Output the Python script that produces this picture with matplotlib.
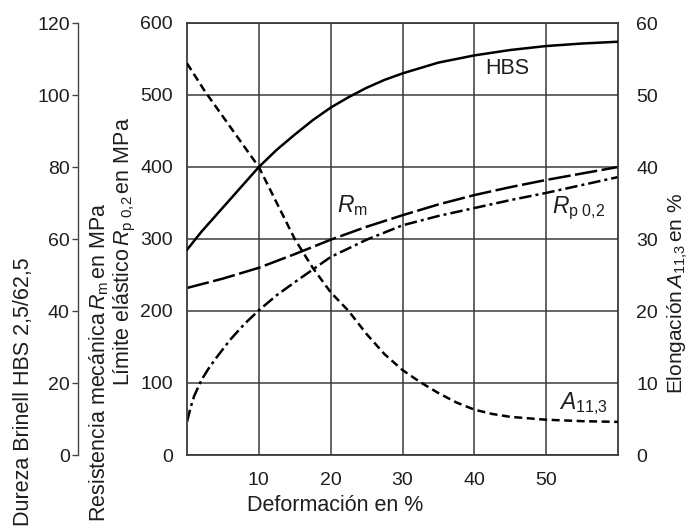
import numpy as np
import matplotlib
matplotlib.use("Agg")
import matplotlib.pyplot as plt

plt.rcParams['font.family'] = ['Liberation Sans', 'DejaVu Sans']
plt.rcParams['mathtext.fontset'] = 'custom'
plt.rcParams['mathtext.rm'] = 'Liberation Sans'
plt.rcParams['mathtext.it'] = 'Liberation Sans:italic'

# values
hbs_x = [0, 2, 4, 6, 8, 10, 12.5, 15, 17.5, 20, 22.5, 25, 27.5, 30, 35, 40, 45, 50, 55, 60]
hbs = [57, 62, 66.5, 71, 75.5, 80, 84.8, 89, 93, 96.5, 99.4, 102, 104.2, 106, 109, 111, 112.5, 113.6, 114.3, 114.8]

rm_x = [0, 5, 10, 15, 20, 25, 30, 35, 40, 45, 50, 55, 60]
rm = [232, 245, 260, 279, 299, 317, 333, 348, 361, 372, 382, 391, 400]

rp_x = [0, 0.5, 1, 2, 3, 4, 6, 8, 10, 12.5, 15, 20, 25, 30, 35, 40, 45, 50, 55, 60]
rp = [46, 66, 82, 104, 120, 134, 160, 182, 201, 222, 240, 275, 299, 319, 332, 343, 354, 364, 375, 386]

a_x = [0, 2.5, 5, 7.5, 10, 12.5, 15, 17.5, 20, 22.5, 25, 27.5, 30, 32.5, 35, 37.5, 40, 42.5, 45, 50, 55, 60]
a113 = [54.4, 50.5, 47, 43.5, 40, 35, 30, 26, 22.6, 20, 16.8, 14, 11.8, 10.1, 8.6, 7.3, 6.3, 5.7, 5.3, 4.9, 4.7, 4.6]

x_ticks = [10, 20, 30, 40, 50]
mpa_ticks = [0, 100, 200, 300, 400, 500, 600]
hbs_ticks = [0, 20, 40, 60, 80, 100, 120]
pct_ticks = [0, 10, 20, 30, 40, 50, 60]

fig = plt.figure(figsize=(6.92, 5.31), dpi=100)
ax = fig.add_axes([187/692, 1-455/531, 431/692, 432/531])
fs = 14
lfs = 15.5
txtc = '#1e1e1e'
gridc = '#3a3a3a'

ax.set_xlim(0, 60)
ax.set_ylim(0, 600)
ax.set_xticks(x_ticks)
ax.set_yticks(mpa_ticks)
ax.grid(True, color=gridc, linewidth=1.1)
ax.tick_params(length=0, labelsize=fs, colors=txtc)
ax.tick_params(axis='y', pad=10)
ax.tick_params(axis='x', pad=12)
for s in ax.spines.values():
    s.set_color(gridc)
    s.set_linewidth(1.3)
ax.set_xlabel('Deformación en %', fontsize=lfs, color=txtc)
ax.xaxis.set_label_coords((335-187)/431, (455-495)/432)

lw = 1.8
ax.plot(rm_x, rm, color='black', lw=lw, dashes=(9, 1.8))
ax.plot(rp_x, rp, color='black', lw=lw, dashes=(5, 1.6, 1.2, 1.6))

# percent axis on the right
axp = ax.twinx()
axp.set_ylim(0, 60)
axp.set_yticks(pct_ticks)
axp.tick_params(length=0, labelsize=fs, pad=13, colors=txtc)
for k in ['left', 'right', 'top', 'bottom']:
    axp.spines[k].set_visible(False)
axp.plot(a_x, a113, color='black', lw=lw, dashes=(3.2, 1.8))

# HBS axis on the far left
axh = ax.twinx()
axh.set_ylim(0, 120)
axh.set_yticks(hbs_ticks)
axh.yaxis.set_ticks_position('left')
axh.spines['left'].set_position(('axes', -109/431))
axh.spines['left'].set_color('#444444')
axh.spines['left'].set_linewidth(1.0)
for k in ['right', 'top', 'bottom']:
    axh.spines[k].set_visible(False)
axh.tick_params(axis='y', direction='out', length=4, width=1.0, color='#444444',
                labelsize=fs, pad=2, labelcolor=txtc)
axh.plot(hbs_x, hbs, color='black', lw=lw)

# curve labels
ax.text(44.6, 537, 'HBS', fontsize=lfs, ha='center', va='center', color=txtc)
ax.text(23, 346, r'$R_\mathrm{m}$', fontsize=lfs + 1, ha='center', va='center', color=txtc)
ax.text(54.5, 343, r'$R_\mathrm{p\ 0{,}2}$', fontsize=lfs + 1, ha='center', va='center', color=txtc)
axp.text(55.2, 7.2, r'$A_\mathrm{11{,}3}$', fontsize=lfs + 1, ha='center', va='center', color=txtc)

# axis titles
fig.text(24/692, 1-392/531, 'Dureza Brinell HBS 2,5/62,5', rotation=90,
         ha='center', va='center', fontsize=lfs, color=txtc)
fig.text(99/692, 1-362/531, r'Resistencia mecánica$\,R_\mathrm{m}\,$en MPa', rotation=90,
         ha='center', va='center', fontsize=lfs, color=txtc)
fig.text(125/692, 1-251/531, r'Límite elástico$\,R_\mathrm{p\ 0{,}2}\,$en MPa', rotation=90,
         ha='center', va='center', fontsize=lfs, color=txtc)
fig.text(678/692, 1-294/531, r'Elongación$\,A_\mathrm{11{,}3}\,$en %', rotation=90,
         ha='center', va='center', fontsize=15, color=txtc)

fig.savefig('out.png', dpi=100)
